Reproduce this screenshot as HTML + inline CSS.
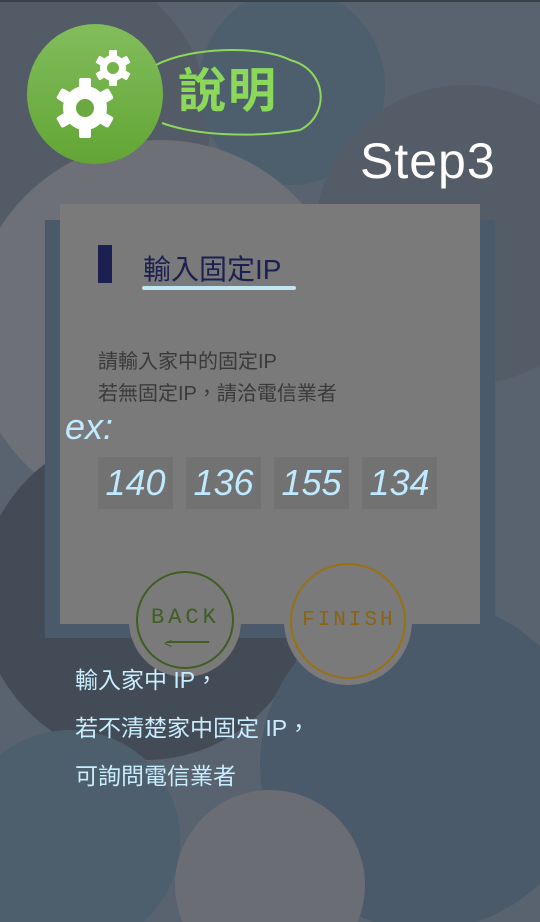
<!DOCTYPE html>
<html style="overflow:hidden;width:540px;height:922px"><head><meta charset="utf-8"><style>
html,body{margin:0;width:540px;height:922px;overflow:hidden}
body{background:#59636f;font-family:"Liberation Sans","Noto Sans CJK TC",sans-serif;position:relative}
.c{position:absolute;border-radius:50%}
.abs{position:absolute}
</style></head><body>
<svg class="abs" style="left:0;top:0" width="540" height="922" viewBox="0 0 540 922">
<rect width="540" height="922" fill="#59636f"/>
<circle cx="45" cy="125" r="165" fill="#535b66"/>
<ellipse cx="292" cy="87" rx="93" ry="98" fill="#4d5e6d"/>
<circle cx="465" cy="235" r="150" fill="#545c68"/>
<circle cx="160" cy="330" r="190" fill="#6d7076"/>
<circle cx="145" cy="595" r="165" fill="#434b57"/>
<circle cx="425" cy="765" r="165" fill="#4b5a6a"/>
<circle cx="70" cy="840" r="110" fill="#4d5e6d"/>
<circle cx="270" cy="885" r="95" fill="#6a6d73"/>
<rect width="540" height="2" fill="#3a4048"/>
</svg>

<div class="c" style="left:27px;top:24px;width:136px;height:140px;background:linear-gradient(#82bd5c,#62a535)">
<svg width="136" height="140" viewBox="0 0 136 140">
<g fill="#fff">
<circle cx="58" cy="84" r="22"/>
<g transform="translate(58,84)"><rect x="-6" y="-30" width="12" height="60" rx="2"/><rect x="-6" y="-30" width="12" height="60" rx="2" transform="rotate(60)"/><rect x="-6" y="-30" width="12" height="60" rx="2" transform="rotate(120)"/></g>
<circle cx="86" cy="44" r="13"/>
<g transform="translate(86,44)"><rect x="-4" y="-18" width="8" height="36" rx="1"/><rect x="-4" y="-18" width="8" height="36" rx="1" transform="rotate(60)"/><rect x="-4" y="-18" width="8" height="36" rx="1" transform="rotate(120)"/></g>
</g>
<circle cx="58" cy="84" r="9" fill="#6aa93f"/><circle cx="86" cy="44" r="6" fill="#74b24a"/>
</svg></div>
<svg class="abs" style="left:150px;top:45px" width="180" height="95">
<path d="M6 20 C40 2 110 0 140 15 C178 25 180 70 150 85 C110 92 50 92 12 78" fill="none" stroke="#8cd85a" stroke-width="2"/>
</svg>
<div class="abs" style="left:178px;top:62px;font-size:48px;font-weight:bold;color:#8cd85a;letter-spacing:2px;line-height:60px">說明</div>
<div class="abs" style="left:360px;top:132px;font-size:50px;color:#fff;letter-spacing:1px">Step3</div>

<div class="abs" style="left:45px;top:220px;width:450px;height:418px;background:#4a5a6a"></div>
<div class="abs" style="left:60px;top:204px;width:420px;height:420px;background:#7a7a7a"></div>
<div class="abs" style="left:98px;top:245px;width:14px;height:38px;background:#1b2050"></div>
<div class="abs" style="left:143px;top:248px;font-size:28px;color:#1b2050">輸入固定IP</div>
<div class="abs" style="left:142px;top:286px;width:154px;height:4px;border-radius:2px;background:#bfe6f5"></div>
<div class="abs" style="left:98px;top:346px;font-size:20px;line-height:32px;color:#3a3a3a">請輸入家中的固定IP<br>若無固定IP，請洽電信業者</div>
<div class="abs" style="left:65px;top:406px;font-size:36px;color:#bfeaff;font-style:italic">ex:</div>
<div class="abs" style="left:98px;top:457px;font-size:36px;line-height:52px;color:#bfeaff;display:flex;gap:13px;font-style:italic">
<span style="background:#727272;width:75px;height:52px;text-align:center">140</span><span style="background:#727272;width:75px;height:52px;text-align:center">136</span><span style="background:#727272;width:75px;height:52px;text-align:center">155</span><span style="background:#727272;width:75px;height:52px;text-align:center">134</span></div>

<div class="c" style="left:129px;top:565px;width:112px;height:112px;background:#7a7a7a">
<div class="c" style="left:7px;top:6px;width:94px;height:94px;border:2px solid #3f5e22"></div>
<div class="abs" style="left:22px;top:40px;font-family:'Liberation Mono',monospace;font-size:22px;color:#3f5e22;letter-spacing:4px">BACK</div>
<div class="abs" style="left:38px;top:76px;width:42px;height:2px;background:#3f5e22"></div>
<div class="abs" style="left:35px;top:70px;font-size:14px;color:#3f5e22">&lt;</div>
</div>
<div class="c" style="left:284px;top:557px;width:128px;height:128px;background:#7a7a7a">
<div class="c" style="left:6px;top:6px;width:112px;height:112px;border:2px solid #9a7010"></div>
<div class="abs" style="left:18px;top:52px;font-family:'Liberation Mono',monospace;font-size:21px;color:#8a6510;letter-spacing:3px">FINISH</div>
</div>

<div class="abs" style="left:75px;top:656px;font-size:23px;line-height:48px;color:#c8eeff">輸入家中 IP，<br>若不清楚家中固定 IP，<br>可詢問電信業者</div>
</body></html>
